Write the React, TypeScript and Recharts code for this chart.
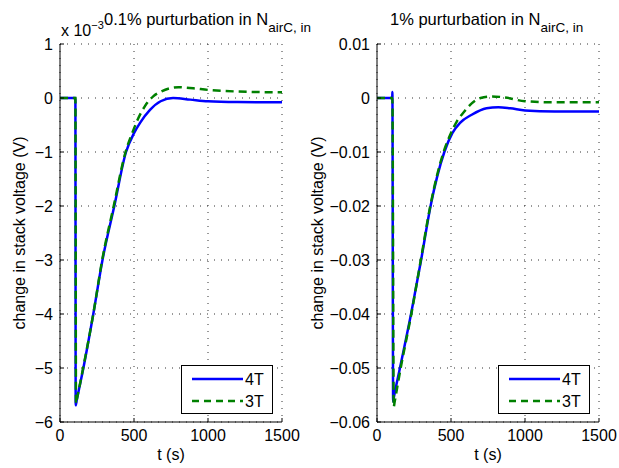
import { CartesianGrid, Legend, Line, LineChart, XAxis, YAxis } from "recharts";

const xTicks = [0, 500, 1000, 1500];
const lowYTicks = [-6, -5, -4, -3, -2, -1, 0, 1];
const highYTicks = [-0.06, -0.05, -0.04, -0.03, -0.02, -0.01, 0, 0.01];

// 0.1% case, values in units of 1e-3 V
const low4T_t = [0, 104, 106, 112, 158, 225, 287, 367, 446, 500, 541, 608, 680, 764, 880, 1000, 1200, 1500];
const low4T_v = [0, 0, -5.69, -5.61, -5, -4, -3, -2, -1, -0.65, -0.46, -0.22, -0.06, 0, -0.03, -0.06, -0.075, -0.08];
const low3T_t = [0, 104, 108, 114, 160, 225, 285, 363, 443, 495, 525, 574, 630, 676, 740, 800, 900, 1000, 1200, 1500];
const low3T_v = [0, 0, -5.66, -5.58, -4.95, -4, -3, -2, -1, -0.6, -0.4, -0.15, 0.03, 0.11, 0.18, 0.2, 0.18, 0.15, 0.12, 0.105];

// 1% case, values in V
const high4T_t = [0, 103, 104, 109, 115, 155, 230, 298, 362, 455, 509, 561, 640, 740, 820, 900, 1000, 1200, 1500];
const high4T_v = [0, 0, 0.0011, -0.0562, -0.0553, -0.05, -0.04, -0.03, -0.02, -0.01, -0.0065, -0.0046, -0.0031, -0.0019, -0.0017, -0.0019, -0.0023, -0.0025, -0.0025];
const high3T_t = [0, 104, 113, 119, 160, 232, 296, 360, 450, 500, 538, 590, 640, 700, 775, 865, 1000, 1200, 1500];
const high3T_v = [0, 0, -0.0572, -0.0563, -0.05, -0.04, -0.03, -0.02, -0.01, -0.0065, -0.0044, -0.0025, -0.001, 0, 0.0003, 0.0001, -0.0006, -0.0008, -0.0008];

const FONT = "'Liberation Sans', Arial, Helvetica, sans-serif";
const BLUE = "#0000ff";
const GREEN = "#008000";

const zip = (t: number[], v: number[]) => t.map((x, i) => ({ t: x, v: v[i] }));

const minus = (v: number, digits?: number) => {
  if (v === 0) return "0";
  const s = digits ? Math.abs(v).toFixed(digits) : String(Math.abs(v));
  return v < 0 ? "\u2212" + s : s;
};

function LegendBox() {
  return (
    <div
      style={{
        width: 92,
        height: 49,
        boxSizing: "border-box",
        border: "1px solid #000",
        background: "#fff",
        position: "relative",
        fontFamily: FONT,
        fontSize: 16,
        color: "#000",
      }}
    >
      <svg width={92} height={49} style={{ position: "absolute", left: -1, top: -1 }}>
        <line x1={11} x2={62} y1={14} y2={14} stroke={BLUE} strokeWidth={2.5} />
        <line x1={11} x2={62} y1={36} y2={36} stroke={GREEN} strokeWidth={2.5} strokeDasharray="7 5" />
        <text x={64} y={20} fontSize={16} fontFamily={FONT}>4T</text>
        <text x={64} y={42} fontSize={16} fontFamily={FONT}>3T</text>
      </svg>
    </div>
  );
}

interface PanelProps {
  left: number;
  width: number;
  yAxisWidth: number;
  rightMargin: number;
  labelOffset: number;
  yTicks: number[];
  format: (v: number) => string;
  s4T: { t: number; v: number }[];
  s3T: { t: number; v: number }[];
  legendLeft: number;
}

function Panel(p: PanelProps) {
  const tickStyle = { fill: "#000", fontSize: 16, fontFamily: FONT };
  const domain: [number, number] = [p.yTicks[0], p.yTicks[p.yTicks.length - 1]];
  return (
    <div style={{ position: "absolute", left: p.left, top: 0 }}>
      <LineChart
        width={p.width}
        height={468}
        margin={{ top: 44, right: p.rightMargin, bottom: 0, left: 0 }}
      >
        <CartesianGrid stroke="#333" strokeDasharray="1 6" horizontalValues={p.yTicks} verticalValues={xTicks} />
        <XAxis
          dataKey="t"
          type="number"
          domain={[0, 1500]}
          ticks={xTicks}
          interval={0}
          height={46}
          allowDuplicatedCategory={false}
          stroke="#000"
          tickSize={-4}
          tickMargin={12}
          tick={tickStyle}
          label={{ value: "t (s)", position: "insideBottom", offset: 8, fill: "#000", fontSize: 16, fontFamily: FONT }}
        />
        <XAxis
          xAxisId="top"
          orientation="top"
          dataKey="t"
          type="number"
          domain={[0, 1500]}
          ticks={xTicks}
          interval={0}
          height={0}
          stroke="#000"
          tickSize={-4}
          tickFormatter={() => ""}
        />
        <YAxis
          type="number"
          domain={domain}
          ticks={p.yTicks}
          interval={0}
          width={p.yAxisWidth}
          stroke="#000"
          tickSize={-4}
          tickMargin={11}
          tick={tickStyle}
          tickFormatter={p.format}
          label={{
            value: "change in stack voltage (V)",
            angle: -90,
            position: "insideLeft",
            offset: p.labelOffset,
            fill: "#000",
            fontSize: 16,
            fontFamily: FONT,
            style: { textAnchor: "middle" },
          }}
        />
        <YAxis
          yAxisId="right"
          orientation="right"
          type="number"
          domain={domain}
          ticks={p.yTicks}
          interval={0}
          width={0}
          stroke="#000"
          tickSize={-4}
          tickFormatter={() => ""}
        />
        <Legend
          verticalAlign="middle"
          layout="horizontal"
          content={() => <LegendBox />}
          wrapperStyle={{ position: "absolute", left: p.legendLeft, top: 365, width: 92, height: 49 }}
        />
        <Line
          data={p.s4T}
          dataKey="v"
          type="monotone"
          stroke={BLUE}
          strokeWidth={2.5}
          dot={false}
          activeDot={false}
          isAnimationActive={false}
          legendType="none"
        />
        <Line
          data={p.s3T}
          dataKey="v"
          type="monotone"
          stroke={GREEN}
          strokeWidth={2.5}
          strokeDasharray="8 5"
          dot={false}
          activeDot={false}
          isAnimationActive={false}
          legendType="none"
        />
      </LineChart>
    </div>
  );
}

export default function App() {
  return (
    <div style={{ position: "absolute", left: 0, top: 0, width: 619, height: 468, background: "#fff" }}>
      <Panel
        left={0}
        width={300}
        yAxisWidth={60}
        rightMargin={18}
        labelOffset={19}
        yTicks={lowYTicks}
        format={(v) => minus(v)}
        s4T={zip(low4T_t, low4T_v)}
        s3T={zip(low3T_t, low3T_v)}
        legendLeft={181}
      />
      <Panel
        left={300}
        width={319}
        yAxisWidth={77}
        rightMargin={20}
        labelOffset={17}
        yTicks={highYTicks}
        format={(v) => minus(v, 2)}
        s4T={zip(high4T_t, high4T_v)}
        s3T={zip(high3T_t, high3T_v)}
        legendLeft={198}
      />
      <svg
        width={619}
        height={40}
        style={{ position: "absolute", left: 0, top: 0, pointerEvents: "none" }}
        fontFamily={FONT}
        fill="#000"
      >
        <text x={61} y={36} fontSize={16}>
          x 10<tspan fontSize={11} dy={-7}>{"\u22123"}</tspan>
        </text>
        <text x={104} y={25} fontSize={16.5}>
          0.1% purturbation in N<tspan fontSize={13.5} dy={7}>airC, in</tspan>
        </text>
        <text x={390} y={25} fontSize={16.5}>
          1% purturbation in N<tspan fontSize={13.5} dy={7}>airC, in</tspan>
        </text>
      </svg>
    </div>
  );
}
